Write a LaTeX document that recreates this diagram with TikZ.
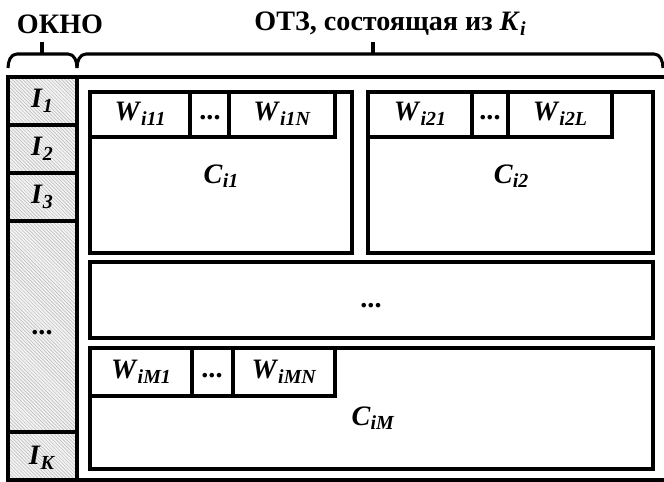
\documentclass[tikz,border=0pt]{standalone}
\usepackage{fontspec}
\setmainfont{Liberation Serif}
\usetikzlibrary{patterns}
\newcommand{\wv}[2]{\textit{#1}\raisebox{-0.35ex}{\fontsize{17}{17}\selectfont\textit{#2}}}

\begin{document}
\begin{tikzpicture}[x=0.03cm,y=-0.03cm,line width=2.6pt,
    lbl/.style={font=\fontsize{24}{28}\selectfont\bfseries,inner sep=0pt},
    hatch/.style={preaction={fill=gray!10},pattern=north west lines,pattern color=gray!55},
    brc/.style={line width=2.6pt,line join=round}]
    \useasboundingbox(0,0)rectangle(664,482);
    \clip(0,0)rectangle(664,482);
    % braces and titles
    \coordinate(bl)at(8,68);
    \coordinate(bm)at(77,68);
    \coordinate(br)at(663,68);
    \draw[brc](bl)to[out=90,in=180](17,54)--(68,54)to[out=0,in=90](bm);
    \draw[brc](bm)to[out=90,in=180](86,54)--(654,54)to[out=0,in=90](br);
    \draw[brc](42,54)--(42,42);
    \draw[brc](373,54)--(373,42);
    \node[lbl](okno)at(60,24){ОКНО};
    \node[lbl](otz)at(390,24){ОТЗ, состоящая из \wv{K}{i}};
    % window column
    \draw[hatch](8,77)rectangle(77,482);
    \draw(8,125)--(77,125);
    \draw(8,173)--(77,173);
    \draw(8,221)--(77,221);
    \draw[line width=4pt](8,432)--(77,432);
    \foreach \y/\k in {101/1,149/2,197/3,458/K}
        \node[lbl](i\k)at(42,\y){\wv{I}{\k}};
    \node[lbl](idots)at(42,333){...};
    % outer frame
    \draw(8,77)rectangle(672,480);
    % C_i1
    \draw(90,92)rectangle(352,253);
    \draw(90,137)-|(335,92);
    \draw(190,92)--(190,137);
    \draw(229,92)--(229,137);
    \node[lbl](wa)at(140,114){\wv{W}{i11}};
    \node[lbl](wad)at(210,118){...};
    \node[lbl](wan)at(282,114){\wv{W}{i1N}};
    \node[lbl](ca)at(221,176){\wv{C}{i1}};
    % C_i2
    \draw(368,92)rectangle(653,253);
    \draw(368,137)-|(612,92);
    \draw(472,92)--(472,137);
    \draw(508,92)--(508,137);
    \node[lbl](wb)at(420,114){\wv{W}{i21}};
    \node[lbl](wbd)at(490,118){...};
    \node[lbl](wbl)at(560,114){\wv{W}{i2L}};
    \node[lbl](cb)at(511,176){\wv{C}{i2}};
    % middle
    \draw(90,262)rectangle(653,338);
    \node[lbl](cdots)at(371,306){...};
    % C_iM
    \draw(90,348)rectangle(653,469);
    \draw(90,396)-|(335,348);
    \draw(192,348)--(192,396);
    \draw(233,348)--(233,396);
    \node[lbl](wm)at(141,372){\wv{W}{iM1}};
    \node[lbl](wmd)at(212,376){...};
    \node[lbl](wmn)at(284,372){\wv{W}{iMN}};
    \node[lbl](cm)at(373,418){\wv{C}{iM}};
\end{tikzpicture}
\end{document}
